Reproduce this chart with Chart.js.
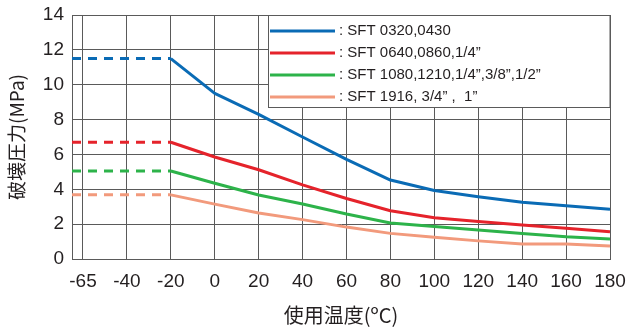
<!DOCTYPE html>
<html>
<head>
<meta charset="utf-8">
<script src="https://cdn.jsdelivr.net/npm/chart.js@4/dist/chart.umd.min.js"></script>
<style>
    html, body { margin: 0; padding: 0; background: #fff; }
    #wrap { width: 627px; height: 327px; }
</style>
</head>
<body>
<div id="wrap"><canvas id="burstChart"></canvas></div>
<script>
// temperatures (°C) on the x axis, evenly spaced
const temps = ['-65', '-40', '-20', '0', '20', '40', '60', '80', '100', '120', '140', '160', '180'];
const yTicks = [0, 2, 4, 6, 8, 10, 12, 14];

// burst pressure (MPa) per series
const sft0320 = [11.5, 11.5, 11.5, 9.5, 8.3, 7.0, 5.72, 4.53, 3.93, 3.57, 3.25, 3.05, 2.85];
const sft0640 = [6.7, 6.7, 6.7, 5.85, 5.12, 4.25, 3.47, 2.77, 2.37, 2.15, 1.95, 1.76, 1.57];
const sft1080 = [5.05, 5.05, 5.05, 4.35, 3.67, 3.16, 2.58, 2.07, 1.87, 1.67, 1.47, 1.28, 1.15];
const sft1916 = [3.68, 3.68, 3.68, 3.15, 2.64, 2.26, 1.83, 1.47, 1.25, 1.04, 0.86, 0.86, 0.75];

const seriesLabels = [
    ': SFT 0320,0430',
    ': SFT 0640,0860,1/4\u201d',
    ': SFT 1080,1210,1/4\u201d,3/8\u201d,1/2\u201d',
    ': SFT 1916, 3/4\u201d ,  1\u201d'
];
const seriesColors = ['#0a6bb5', '#e5232b', '#2db34a', '#f29a7c'];

const X_MIN = -0.25;      // axis starts a quarter step left of -65
const DASH_END = 3;       // dashed up to -20 (point index incl. the edge point)
const textColor = '#231f20';
const gridColor = '#5a5a5a';
const tickFont = { family: '"Liberation Sans", Arial, sans-serif', size: 19 };

function buildData(values) {
    const pts = [{ x: X_MIN, y: values[0] }];
    values.forEach((v, i) => pts.push({ x: i, y: v }));
    return pts;
}

const legendBox = {
    id: 'legendBox',
    afterDatasetsDraw(chart) {
        const c = chart.ctx;
        const left = 268, top = chart.chartArea.top, right = chart.chartArea.right, bottom = 107;
        c.save();
        c.fillStyle = '#fff';
        c.fillRect(left, top, right - left, bottom - top);
        c.strokeStyle = gridColor;
        c.lineWidth = 1;
        c.strokeRect(left + 0.5, top + 0.5, right - left - 0.5, bottom - top);
        c.font = '15px "Liberation Sans", Arial, sans-serif';
        c.textBaseline = 'middle';
        c.fillStyle = textColor;
        seriesLabels.forEach((lbl, i) => {
            const y = top + 16 + i * 22;
            c.strokeStyle = seriesColors[i];
            c.lineWidth = 3;
            c.beginPath();
            c.moveTo(left + 2, y);
            c.lineTo(left + 67, y);
            c.stroke();
            c.fillText(lbl, left + 71, y);
        });
        c.restore();
    }
};

function createBurstChart() {
    const ctx = document.getElementById('burstChart');
    new Chart(ctx, {
        type: 'line',
        data: {
            datasets: [sft0320, sft0640, sft1080, sft1916].map((vals, i) => ({
                label: seriesLabels[i],
                data: buildData(vals),
                borderColor: seriesColors[i],
                borderWidth: 3,
                pointRadius: 0,
                tension: 0,
                borderJoinStyle: 'round',
                fill: false,
                segment: {
                    borderDash: s => s.p1DataIndex <= DASH_END ? [9, 7] : undefined
                }
            }))
        },
        plugins: [legendBox],
        options: {
            responsive: true,
            maintainAspectRatio: false,
            animation: false,
            layout: { padding: { top: 15, right: 17, left: 0, bottom: 0 } },
            plugins: {
                legend: { display: false },
                tooltip: { enabled: false }
            },
            scales: {
                x: {
                    type: 'linear',
                    min: X_MIN,
                    max: temps.length - 1,
                    afterBuildTicks: scale => {
                        scale.ticks = temps.map((_, i) => ({ value: i }));
                    },
                    afterFit: scale => {
                        scale.height = 68;
                        scale.paddingLeft = 0;
                        scale.paddingRight = 0;
                    },
                    grid: { color: gridColor, lineWidth: 1, drawTicks: false },
                    border: { color: gridColor, width: 1 },
                    ticks: {
                        padding: 11,
                        color: textColor,
                        font: tickFont,
                        autoSkip: false,
                        maxRotation: 0,
                        callback: v => temps[v]
                    },
                    title: {
                        display: true,
                        text: '使用温度(ºC)',
                        color: textColor,
                        font: { family: '"Noto Sans CJK JP", sans-serif', size: 20 },
                        padding: { top: 3, bottom: 0 }
                    }
                },
                y: {
                    min: 0,
                    max: 14,
                    afterBuildTicks: scale => {
                        scale.ticks = yTicks.map(v => ({ value: v }));
                    },
                    afterFit: scale => {
                        scale.width = 72;
                        scale.paddingTop = 0;
                        scale.paddingBottom = 0;
                    },
                    grid: { color: gridColor, lineWidth: 1, drawTicks: false },
                    border: { color: gridColor, width: 1 },
                    ticks: {
                        padding: 8,
                        color: textColor,
                        font: tickFont
                    },
                    title: {
                        display: true,
                        text: '破壊圧力(MPa)',
                        color: textColor,
                        font: { family: '"Noto Sans CJK JP", sans-serif', size: 19 },
                        padding: { top: 5, bottom: 0 }
                    }
                }
            }
        }
    });
}

createBurstChart();
</script>
</body>
</html>
